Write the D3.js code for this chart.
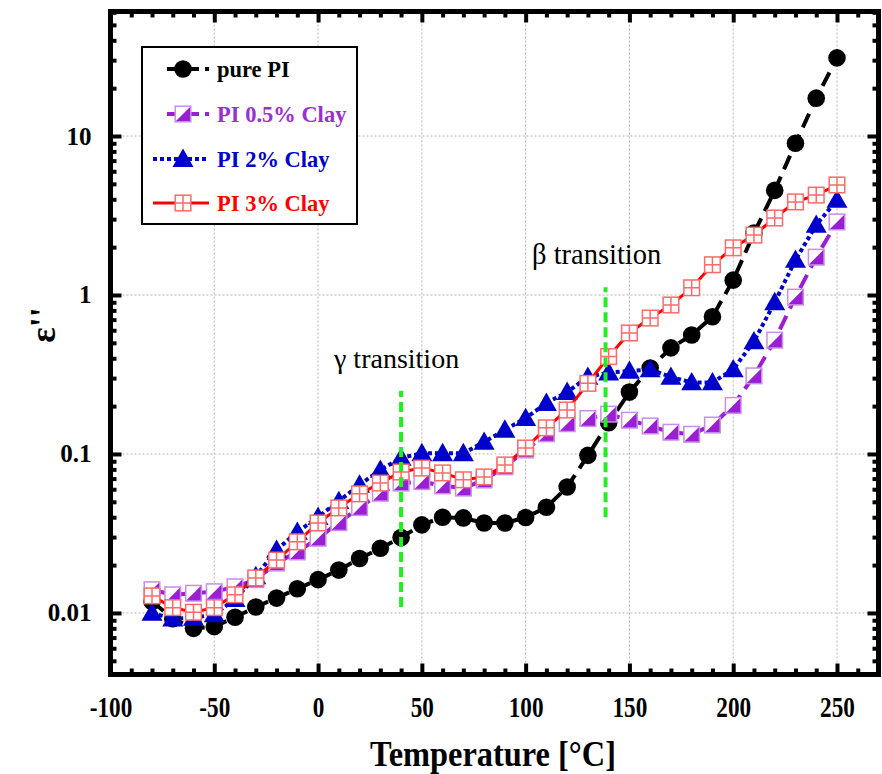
<!DOCTYPE html>
<html><head><meta charset="utf-8">
<script src="https://cdn.jsdelivr.net/npm/d3@7"></script>
<style>body{margin:0;background:#fff}svg{display:block}</style>
</head><body>
<svg id="chart" width="882" height="774"></svg>
<script>
const temps = [-80,-70,-60,-50,-40,-30,-20,-10,0,10,20,30,40,50,60,70,80,90,100,110,120,130,140,150,160,170,180,190,200,210,220,230,240,250];
const purePI = [0.0118,0.0092,0.0080,0.0082,0.0094,0.0109,0.0124,0.0142,0.0162,0.0186,0.0220,0.0255,0.0298,0.0358,0.0400,0.0396,0.0368,0.0368,0.0398,0.0462,0.062,0.098,0.157,0.245,0.347,0.465,0.56,0.73,1.24,2.45,4.55,9.0,17.3,31];
const clay05 = [0.0140,0.0130,0.0133,0.0136,0.0146,0.0162,0.0206,0.0242,0.0295,0.0370,0.0460,0.0566,0.0656,0.0670,0.0630,0.0610,0.0686,0.083,0.106,0.134,0.155,0.167,0.178,0.163,0.150,0.137,0.133,0.152,0.202,0.31,0.52,0.97,1.73,2.88];
const clay2 = [0.0100,0.0092,0.0093,0.0098,0.0122,0.0170,0.0249,0.0323,0.0401,0.0505,0.0640,0.0794,0.0944,0.101,0.101,0.101,0.119,0.142,0.168,0.209,0.245,0.305,0.325,0.333,0.340,0.305,0.282,0.282,0.340,0.51,0.90,1.66,2.76,3.96];
const clay3 = [0.0128,0.0108,0.0101,0.0108,0.0130,0.0166,0.0215,0.0280,0.0368,0.0458,0.0561,0.0656,0.0770,0.0815,0.0760,0.0688,0.0717,0.0853,0.109,0.146,0.189,0.278,0.410,0.577,0.716,0.865,1.11,1.55,1.98,2.38,3.05,3.85,4.25,4.92];
const seriesNames = ["pure PI","PI 0.5% Clay","PI 2% Clay","PI 3% Clay"];
const xTicks = [-100,-50,0,50,100,150,200,250];
const xTickLabels = ["-100","-50","0","50","100","150","200","250"];
const yTicks = [0.01,0.1,1,10];
const yTickLabels = ["0.01","0.1","1","10"];
const transitions = [{label:"γ transition", t:40, lo:0.0109, hi:0.25},{label:"β transition", t:138.5, lo:0.040, hi:1.12}];

const svg = d3.select("#chart");
const X0=110.5, X1=878.5, Y0=674.5, Y1=11.5;
const x = d3.scaleLinear().domain([-100,270]).range([X0,X1]);
const y = d3.scaleLog().domain([0.0041,60.7]).range([Y0,Y1]);
const FONT = "'Liberation Serif','Times New Roman',Times,serif";

// grid
const grid = svg.append("g");
xTicks.filter(t=>t>-100).forEach(t=>grid.append("line").attr("x1",x(t)).attr("x2",x(t)).attr("y1",Y0).attr("y2",Y1));
yTicks.forEach(t=>grid.append("line").attr("x1",X0).attr("x2",X1).attr("y1",y(t)).attr("y2",y(t)));
grid.selectAll("line").attr("stroke","#b5b5b5").attr("stroke-width",1).attr("stroke-dasharray","2,2");

// minor ticks
const xMinor = d3.range(-100,271,10).filter(v=>v%50!==0);
const yMinor = [];
[0.001,0.01,0.1,1,10].forEach(d=>{for(let k=2;k<=9;k++){const v=d*k; if(v>0.0041&&v<60.7) yMinor.push(v);}});

function styleAxis(g){
  g.select(".domain").remove();
  g.selectAll(".tick line").attr("stroke","#000").attr("stroke-width",4);
}
const bottomMaj = svg.append("g").attr("transform",`translate(0,${Y0})`)
  .call(d3.axisBottom(x).tickValues(xTicks).tickSize(-11).tickPadding(22).tickFormat((d,i)=>xTickLabels[i]));
styleAxis(bottomMaj);
bottomMaj.selectAll("text").attr("font-family",FONT).attr("font-weight","bold").attr("font-size",29).attr("fill","#000").attr("transform","scale(0.8,1)");
svg.append("g").attr("transform",`translate(0,${Y0})`).call(d3.axisBottom(x).tickValues(xMinor).tickSize(-6).tickFormat("")).call(styleAxis);
svg.append("g").attr("transform",`translate(0,${Y1})`).call(d3.axisTop(x).tickValues(xTicks).tickSize(-11).tickFormat("")).call(styleAxis);
svg.append("g").attr("transform",`translate(0,${Y1})`).call(d3.axisTop(x).tickValues(xMinor).tickSize(-6).tickFormat("")).call(styleAxis);

const leftMaj = svg.append("g").attr("transform",`translate(${X0},0)`)
  .call(d3.axisLeft(y).tickValues(yTicks).tickSize(-11).tickPadding(19).tickFormat((d,i)=>yTickLabels[i]));
styleAxis(leftMaj);
leftMaj.selectAll("text").attr("font-family",FONT).attr("font-weight","bold").attr("font-size",25).attr("fill","#000");
svg.append("g").attr("transform",`translate(${X0},0)`).call(d3.axisLeft(y).tickValues(yMinor).tickSize(-6).tickFormat("")).call(styleAxis);
svg.append("g").attr("transform",`translate(${X1},0)`).call(d3.axisRight(y).tickValues(yTicks).tickSize(-11).tickFormat("")).call(styleAxis);
svg.append("g").attr("transform",`translate(${X1},0)`).call(d3.axisRight(y).tickValues(yMinor).tickSize(-6).tickFormat("")).call(styleAxis);

// frame
svg.append("rect").attr("x",X0).attr("y",Y1).attr("width",X1-X0).attr("height",Y0-Y1)
  .attr("fill","none").attr("stroke","#000").attr("stroke-width",5);

// axis titles
svg.append("text").attr("transform","translate(493,766) scale(0.9,1)").attr("text-anchor","middle")
  .attr("font-family",FONT).attr("font-weight","bold").attr("font-size",36).text("Temperature [°C]");
svg.append("text").attr("transform","translate(55,325) rotate(-90)").attr("text-anchor","middle")
  .attr("font-family",FONT).attr("font-weight","bold").attr("font-size",36).text("ε''");

// series
const PURPLE="#9a1fd4", PURPLE_L="#c98ee8", BLUE="#0000cc", RED="#ff0000", RED_L="#ff6a6a";
const line = d3.line().x(d=>x(d[0])).y(d=>y(d[1]));
const pts = arr => temps.map((t,i)=>[t,arr[i]]);

function drawCircle(g,cx,cy){ g.append("circle").attr("cx",cx).attr("cy",cy).attr("r",8.8).attr("fill","#000"); }
function drawHalf(g,cx,cy){
  const s=7.8;
  g.append("rect").attr("x",cx-s).attr("y",cy-s).attr("width",2*s).attr("height",2*s).attr("fill","#fff");
  g.append("path").attr("d",`M${cx-s},${cy+s}L${cx+s},${cy-s}L${cx+s},${cy+s}Z`).attr("fill",PURPLE);
  g.append("rect").attr("x",cx-s).attr("y",cy-s).attr("width",2*s).attr("height",2*s).attr("fill","none").attr("stroke",PURPLE_L).attr("stroke-width",1.5);
}
function drawTri(g,cx,cy){
  const s=10.5;
  g.append("path").attr("d",`M${cx},${cy-s}L${cx+s},${cy+s*0.75}L${cx-s},${cy+s*0.75}Z`).attr("fill",BLUE);
}
function drawCross(g,cx,cy){
  const s=7.8;
  g.append("rect").attr("x",cx-s).attr("y",cy-s).attr("width",2*s).attr("height",2*s).attr("fill","#fff").attr("stroke",RED_L).attr("stroke-width",1.5);
  g.append("path").attr("d",`M${cx},${cy-s}V${cy+s}M${cx-s},${cy}H${cx+s}`).attr("stroke",RED_L).attr("stroke-width",1.5);
}
const series = [
  {data:purePI, color:"#000", width:4, dash:"15,8", marker:drawCircle},
  {data:clay05, color:PURPLE, width:4, dash:"15,8", marker:drawHalf},
  {data:clay2, color:BLUE, width:4, dash:"4,3", marker:drawTri},
  {data:clay3, color:RED, width:3, dash:null, marker:drawCross}
];
series.forEach(s=>{
  const g = svg.append("g");
  g.append("path").datum(pts(s.data)).attr("d",line).attr("fill","none").attr("stroke",s.color)
    .attr("stroke-width",s.width).attr("stroke-dasharray",s.dash);
  pts(s.data).forEach(p=>s.marker(g,x(p[0]),y(p[1])));
});

// transitions
transitions.forEach(tr=>{
  svg.append("line").attr("x1",x(tr.t)).attr("x2",x(tr.t)).attr("y1",y(tr.lo)).attr("y2",y(tr.hi))
    .attr("stroke","#22ee22").attr("stroke-width",4).attr("stroke-dasharray","10,5");
});
svg.append("text").attr("x",334).attr("y",368).attr("font-family",FONT).attr("font-size",28).text(transitions[0].label);
svg.append("text").attr("x",532).attr("y",264).attr("font-family",FONT).attr("font-size",28.5).text(transitions[1].label);

// legend
const lg = svg.append("g");
lg.append("rect").attr("x",142).attr("y",47).attr("width",215).attr("height",177).attr("fill","#fff").attr("stroke","#000").attr("stroke-width",2);
const legY=[69,114,159,203], legX0=[167,167,153,153], textCol=["#000","#9a30d2",BLUE,RED];
series.forEach((s,i)=>{
  lg.append("line").attr("x1",legX0[i]).attr("x2",209).attr("y1",legY[i]).attr("y2",legY[i])
    .attr("stroke",s.color).attr("stroke-width",s.width).attr("stroke-dasharray",i===2?"4,3":(i===3?null:"13,6"));
  s.marker(lg,183,legY[i]);
  lg.append("text").attr("x",217).attr("y",legY[i]+7.5).attr("font-family",FONT).attr("font-weight","bold")
    .attr("font-size",22.5).attr("fill",textCol[i]).text(seriesNames[i]);
});
</script>
</body></html>
